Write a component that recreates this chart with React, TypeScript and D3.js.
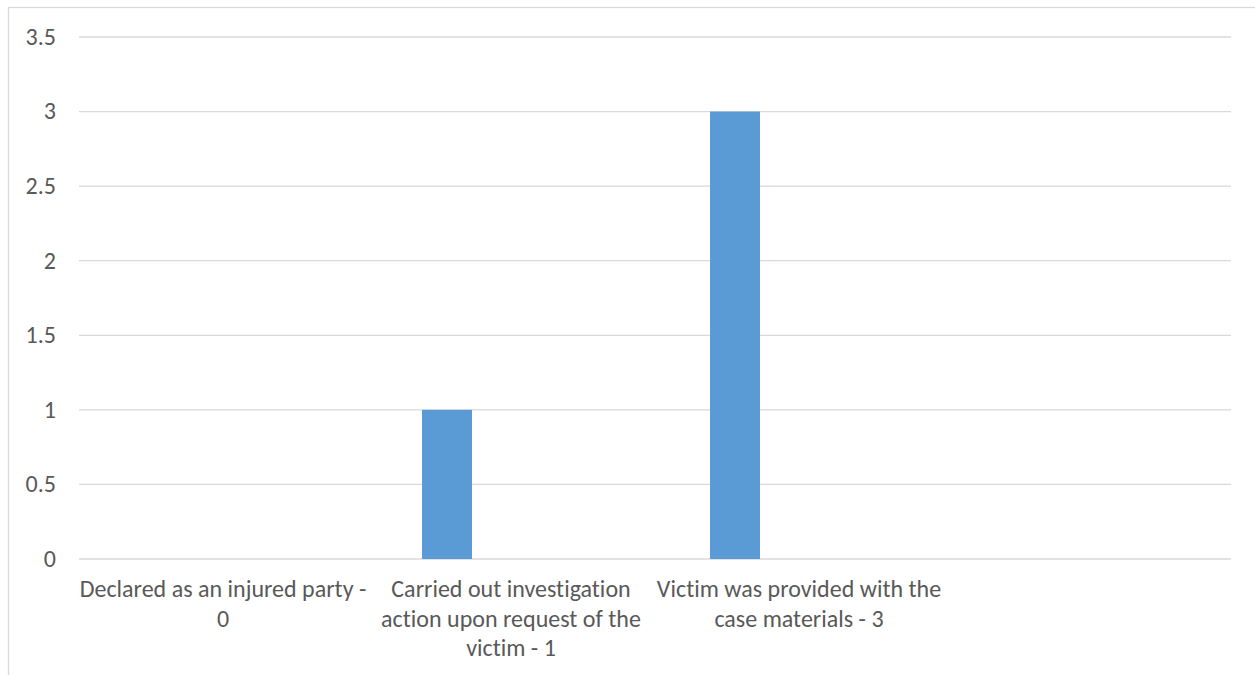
import React, { useEffect, useRef } from "react";
import * as d3 from "d3";

const categories = [
  "Declared as an injured party - 0",
  "Carried out investigation action upon request of the victim - 1",
  "Victim was provided with the case materials - 3",
  "",
];
const values = [0, 1, 3, null];
const yTicks = [0, 0.5, 1, 1.5, 2, 2.5, 3, 3.5];

const W = 1255;
const H = 675;
const FONT = "Carlito, Calibri, Lato, sans-serif";
const FONT_SIZE = 24;
const TEXT_COLOR = "#595959";
const GRID_COLOR = "#d9d9d9";
const BAR_COLOR = "#5b9bd5";

export default function App() {
  const ref = useRef<SVGSVGElement>(null);

  useEffect(() => {
    const svg = d3.select(ref.current);
    svg.selectAll("*").remove();

    const x = d3.scaleBand<string>().domain(categories.map((c, i) => String(i))).range([79, 1231]).padding(0);
    const y = d3.scaleLinear().domain([0, 3.5]).range([559, 37]);
    const barW = x.bandwidth() * 0.1736;
    const barOff = -x.bandwidth() * 0.2222;

    // frame
    svg.append("rect")
      .attr("x", 8.5).attr("y", 7.5).attr("width", 1300).attr("height", 800)
      .attr("fill", "white").attr("stroke", GRID_COLOR).attr("stroke-width", 1.3);

    // gridlines
    svg.append("g").selectAll("line").data(yTicks).join("line")
      .attr("x1", 79).attr("x2", 1231)
      .attr("y1", (d) => y(d)).attr("y2", (d) => y(d))
      .attr("stroke", GRID_COLOR).attr("stroke-width", 1.3);

    // y labels
    const fmt = d3.format("~g");
    svg.append("g").selectAll("text").data(yTicks).join("text")
      .attr("x", 56).attr("y", (d) => y(d)).attr("dy", "0.33em")
      .attr("text-anchor", "end")
      .attr("font-family", FONT).attr("font-size", FONT_SIZE).attr("fill", TEXT_COLOR)
      .text((d) => fmt(d));

    // bars
    svg.append("g").selectAll("rect").data(values.map((v, i) => ({ v, i })).filter((d) => d.v != null && d.v > 0)).join("rect")
      .attr("x", (d) => (x(String(d.i)) as number) + x.bandwidth() / 2 + barOff - barW / 2)
      .attr("width", barW)
      .attr("y", (d) => y(d.v as number))
      .attr("height", (d) => y(0) - y(d.v as number))
      .attr("fill", BAR_COLOR);

    // x labels with wrapping
    const maxW = 294;
    const lineH = 29.5;
    categories.forEach((c, i) => {
      if (!c) return;
      const cx = (x(String(i)) as number) + x.bandwidth() / 2;
      const t = svg.append("text")
        .attr("text-anchor", "middle")
        .style("font-variant-ligatures", "none")
        .style("font-feature-settings", "'liga' 0, 'clig' 0")
        .style("letter-spacing", "0.01px")
        .attr("font-family", FONT).attr("font-size", FONT_SIZE).attr("fill", TEXT_COLOR);
      const words = c.split(" ");
      let line: string[] = [];
      let lineNo = 0;
      let ts = t.append("tspan").attr("x", cx).attr("y", 597);
      for (const w of words) {
        line.push(w);
        ts.text(line.join(" "));
        if ((ts.node() as SVGTSpanElement).getComputedTextLength() > maxW && line.length > 1) {
          line.pop();
          ts.text(line.join(" "));
          line = [w];
          lineNo++;
          ts = t.append("tspan").attr("x", cx).attr("y", 597 + lineNo * lineH).text(w);
        }
      }
    });
  }, []);

  return (
    <svg
      ref={ref}
      width={W}
      height={H}
      style={{ position: "absolute", left: 0, top: 0, display: "block", background: "white" }}
    />
  );
}
